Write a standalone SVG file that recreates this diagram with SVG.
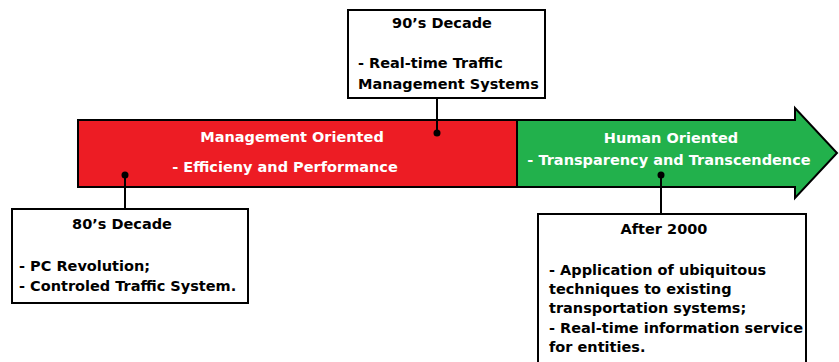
<svg xmlns="http://www.w3.org/2000/svg" width="839" height="362" viewBox="0 0 839 362">
<style>
text{font-family:"DejaVu Sans",Verdana,sans-serif;font-weight:bold;font-size:14.5px}
.w{fill:#ffffff}
.k{fill:#000000}
.c{text-anchor:middle}
.box{fill:#ffffff;stroke:#000000;stroke-width:2}
.ln{stroke:#000000;stroke-width:2;fill:none}
</style>
<rect width="839" height="362" fill="#ffffff"/>
<g id="management">
<rect x="78" y="120" width="439" height="67" fill="#ED1C24" stroke="#000" stroke-width="2"/>
<text class="w c" x="292" y="142">Management Oriented</text>
<text class="w c" x="285" y="172">- Efficieny and Performance</text>
</g>
<g id="human">
<polygon points="517,120 795,120 795,108 837,153 795,198 795,187 517,187" fill="#22B14C" stroke="#000" stroke-width="2" stroke-linejoin="miter"/>
<text class="w c" x="671" y="143">Human Oriented</text>
<text class="w c" x="669" y="165">- Transparency and Transcendence</text>
</g>
<g id="connectors">
<line class="ln" x1="437" y1="98" x2="437" y2="133"/>
<circle cx="437" cy="133" r="3.5"/>
<line class="ln" x1="125" y1="175" x2="125" y2="209"/>
<circle cx="125" cy="175" r="3.5"/>
<line class="ln" x1="661" y1="175" x2="661" y2="214"/>
<circle cx="661" cy="175" r="3.5"/>
</g>
<g id="d90">
<rect class="box" x="348" y="10" width="197" height="88"/>
<text class="k c" x="442" y="28">90’s Decade</text>
<text class="k" x="358" y="68">- Real-time Traffic</text>
<text class="k" x="358" y="89">Management Systems</text>
</g>
<g id="d80">
<rect class="box" x="12" y="209" width="236" height="94"/>
<text class="k c" x="122" y="229">80’s Decade</text>
<text class="k" x="19" y="271">- PC Revolution;</text>
<text class="k" x="19" y="291">- Controled Traffic System.</text>
</g>
<g id="d2000">
<rect class="box" x="538" y="214" width="268" height="160"/>
<text class="k c" x="664" y="234">After 2000</text>
<text class="k" x="549" y="275">- Application of ubiquitous</text>
<text class="k" x="549" y="294">techniques to existing</text>
<text class="k" x="549" y="313">transportation systems;</text>
<text class="k" x="549" y="333">- Real-time information service</text>
<text class="k" x="549" y="352">for entities.</text>
</g>
</svg>
